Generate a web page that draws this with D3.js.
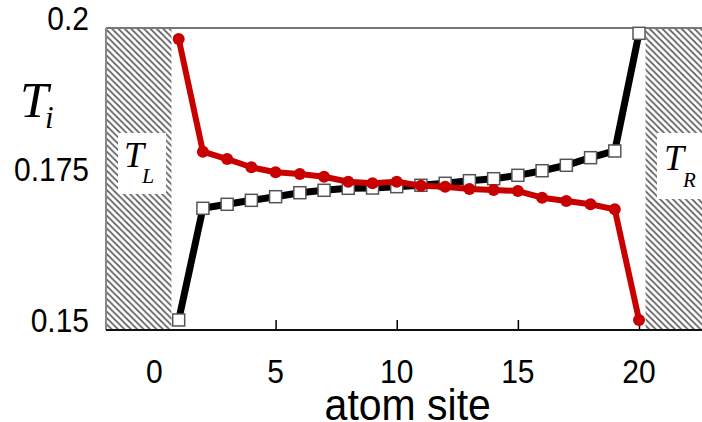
<!DOCTYPE html>
<html>
<head>
<meta charset="utf-8">
<script src="https://cdn.jsdelivr.net/npm/d3@7"></script>
<style>
  html, body { margin: 0; padding: 0; background: #fff; }
  svg { display: block; }
</style>
</head>
<body>
<svg id="chart" width="702" height="422"></svg>
<script>
// ---- data ----
const sites = [1,2,3,4,5,6,7,8,9,10,11,12,13,14,15,16,17,18,19,20];
const blackSeries = [0.15166,0.17015,0.17081,0.17147,0.17207,0.17273,0.17313,0.17346,0.17350,0.17373,
                     0.17396,0.17429,0.17472,0.17505,0.17561,0.17637,0.17727,0.17853,0.17964,0.19912];
const redSeries   = [0.19818,0.17952,0.17831,0.17694,0.17611,0.17583,0.17538,0.17455,0.17429,0.17455,
                     0.17389,0.17373,0.17334,0.17318,0.17301,0.17190,0.17136,0.17081,0.16998,0.15166];
const xTicks = [0,5,10,15,20];
const yTicks = [0.15,0.175,0.2];
const yTickLabels = ["0.15","0.175","0.2"];
const xDomain = [-2, 22.6];
const yDomain = [0.15, 0.2];
const leftReservoir = [-2, 0.7];
const rightReservoir = [20.27, 22.6];

// ---- layout ----
const svg = d3.select("#chart");
const L = 106, R = 702, T = 28, B = 330;
const x = d3.scaleLinear().domain(xDomain).range([L, R]);
const y = d3.scaleLinear().domain(yDomain).range([B, T]);

const defs = svg.append("defs");
defs.append("clipPath").attr("id","plotclip")
  .append("rect").attr("x",L).attr("y",T-8).attr("width",R-L).attr("height",B-T+16);
const P = 6.4;
const pat = defs.append("pattern").attr("id","hatch")
  .attr("patternUnits","userSpaceOnUse").attr("width",P).attr("height",P);
pat.append("rect").attr("width",P).attr("height",P).attr("fill","#fff");
pat.append("path").attr("d",`M${-P/4},${-P/4} L${P*1.25},${P*1.25} M${-P/4},${P*0.75} L${P/4},${P*1.25} M${P*0.75},${-P/4} L${P*1.25},${P/4}`)
  .attr("stroke","#5a5a5a").attr("stroke-width",1.7);

// bottom axis ticks (inside)
const xAxis = d3.axisBottom(x).tickValues(xTicks).tickSizeInner(-10).tickSizeOuter(0).tickFormat("");
const gx = svg.append("g").attr("transform",`translate(0,${B})`).call(xAxis);
gx.select(".domain").remove();
gx.selectAll(".tick line").attr("stroke","#000").attr("stroke-width",1.5);

// reservoirs
[leftReservoir, rightReservoir].forEach(r => {
  svg.append("rect").attr("x",x(r[0])).attr("y",T).attr("width",x(r[1])-x(r[0])).attr("height",B-T)
    .attr("fill","url(#hatch)");
});

// frame
svg.append("line").attr("x1",L).attr("x2",R).attr("y1",T).attr("y2",T).attr("stroke","#777").attr("stroke-width",2);
svg.append("line").attr("x1",L).attr("x2",L).attr("y1",T).attr("y2",B).attr("stroke","#888").attr("stroke-width",2);
svg.append("line").attr("x1",L).attr("x2",R).attr("y1",B).attr("y2",B).attr("stroke","#111").attr("stroke-width",2);

// reservoir label boxes
function resLabel(bx, by, bw, bh, tx, ty, sub, sx, sy, subSize) {
  svg.append("rect").attr("x",bx).attr("y",by).attr("width",bw).attr("height",bh).attr("fill","#fff");
  svg.append("text").attr("x",tx).attr("y",ty)
    .attr("font-family","'Liberation Serif', 'DejaVu Serif', serif").attr("font-style","italic")
    .attr("font-size",36).attr("fill","#000").text("T");
  svg.append("text").attr("x",sx).attr("y",sy)
    .attr("font-family","'Liberation Serif', 'DejaVu Serif', serif").attr("font-style","italic")
    .attr("font-size",subSize).attr("fill","#000").text(sub);
}
resLabel(118, 133, 48, 61, 124, 167, "L", 142, 183, 22);
resLabel(657, 133, 45, 66, 664, 170, "R", 683, 187, 21);

// data lines
const g = svg.append("g").attr("clip-path","url(#plotclip)");
const line = d3.line().x((d,i)=>x(sites[i])).y(d=>y(d));
g.append("path").datum(blackSeries).attr("d",line).attr("fill","none")
  .attr("stroke","#000").attr("stroke-width",7).attr("stroke-linejoin","round");
g.selectAll("rect.sq").data(blackSeries).enter().append("rect").attr("class","sq")
  .attr("x",(d,i)=>x(sites[i])-6).attr("y",d=>y(d)-6).attr("width",12).attr("height",12)
  .attr("fill","#fff").attr("stroke","#555").attr("stroke-width",1.5);
g.append("path").datum(redSeries).attr("d",line).attr("fill","none")
  .attr("stroke","#c80000").attr("stroke-width",6).attr("stroke-linejoin","round");
g.selectAll("circle.rd").data(redSeries).enter().append("circle").attr("class","rd")
  .attr("cx",(d,i)=>x(sites[i])).attr("cy",d=>y(d)).attr("r",6).attr("fill","#c80000");

// tick labels (slightly tall glyphs, as in the reference)
const font = "'Liberation Sans', Arial, Helvetica, sans-serif";
const sy = 1.1;
svg.append("g").attr("transform",`scale(1,${sy})`).selectAll("text").data(xTicks).enter().append("text")
  .attr("x",d=>x(d)).attr("y",383/sy).attr("text-anchor","middle")
  .attr("font-family",font).attr("font-size",30).attr("fill","#000").text(d=>d);
svg.append("g").attr("transform",`scale(1,${sy})`).selectAll("text").data(yTicks).enter().append("text")
  .attr("x",89).attr("y",d=>(y(d)+2)/sy).attr("text-anchor","end")
  .attr("font-family",font).attr("font-size",30).attr("fill","#000").text((d,i)=>yTickLabels[i]);

// axis titles
svg.append("text").attr("transform",`translate(${(x(0)+x(20))/2+11},420) scale(1,1.08)`)
  .attr("text-anchor","middle")
  .attr("font-family",font).attr("font-size",41).attr("fill","#000").text("atom site");
svg.append("text").attr("x",20).attr("y",117)
  .attr("font-family","'Liberation Serif', 'DejaVu Serif', serif").attr("font-style","italic")
  .attr("font-size",51).attr("fill","#000").text("T");
svg.append("text").attr("x",45).attr("y",128)
  .attr("font-family","'Liberation Serif', 'DejaVu Serif', serif").attr("font-style","italic")
  .attr("font-size",31).attr("fill","#000").text("i");
</script>
</body>
</html>
